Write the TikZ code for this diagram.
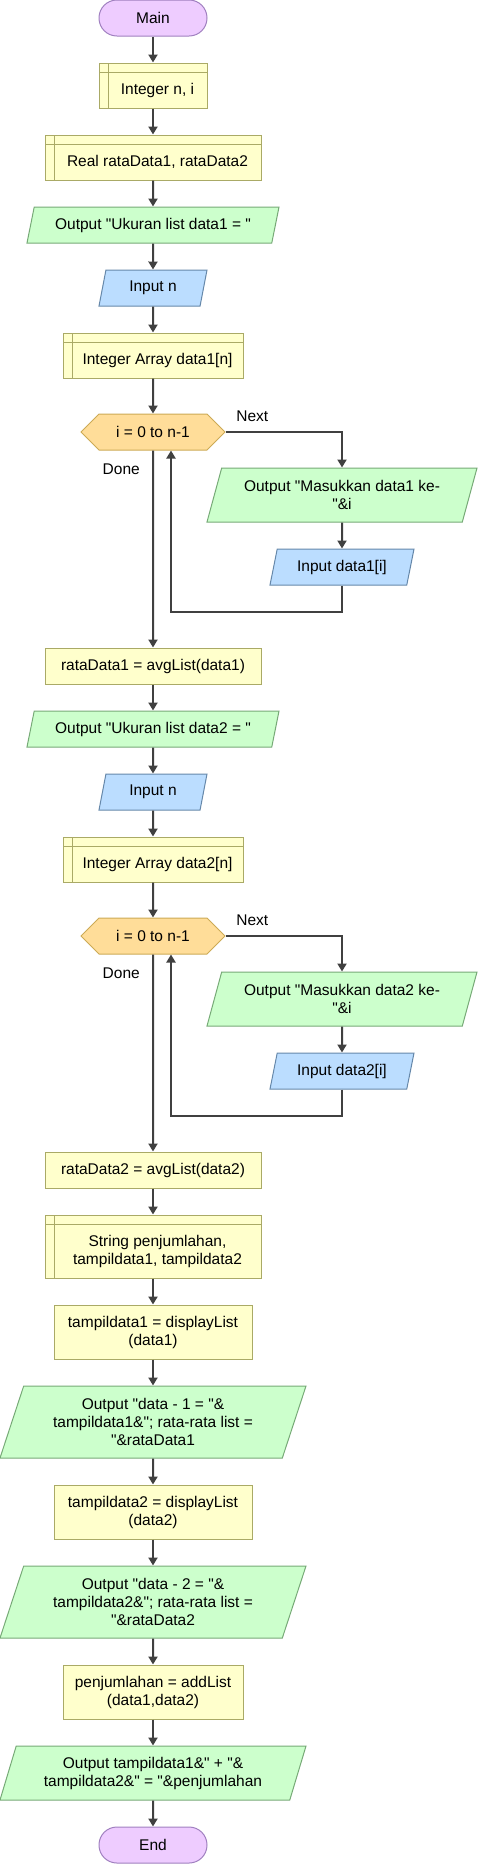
\documentclass[tikz,border=0pt]{standalone}
\usepackage{fontspec}
\setmainfont{Liberation Sans}[Ligatures=TeXOff]
\usetikzlibrary{shapes.geometric,shapes.symbols,arrows.meta,calc}
\definecolor{termfill}{RGB}{238,204,255}
\definecolor{termedge}{RGB}{160,128,192}
\definecolor{procfill}{RGB}{255,255,204}
\definecolor{procedge}{RGB}{170,170,102}
\definecolor{outfill}{RGB}{204,255,204}
\definecolor{outedge}{RGB}{119,170,119}
\definecolor{infill}{RGB}{187,221,255}
\definecolor{inedge}{RGB}{102,136,170}
\definecolor{loopfill}{RGB}{255,221,153}
\definecolor{loopedge}{RGB}{204,170,85}
\definecolor{arrline}{RGB}{64,64,64}
\tikzset{
  base/.style={draw, line width=1pt, inner sep=0pt, align=center, font=\fontsize{15.5pt}{18pt}\selectfont},
  box/.style 2 args={minimum width=#1pt, minimum height=#2pt},
  term/.style={base, fill=termfill, draw=termedge, rounded corners=17.9pt},
  proc/.style={base, fill=procfill, draw=procedge},
  decl/.style={proc, path picture={
    \draw[procedge, line width=1pt]
      ([xshift=9pt]path picture bounding box.north west) -- ([xshift=9pt]path picture bounding box.south west)
      ([yshift=-9pt]path picture bounding box.north west) -- ([yshift=-9pt]path picture bounding box.north east);}},
  declabel/.style={inner sep=0pt, align=center, xshift=4.5pt, yshift=-4.5pt, font=\fontsize{15.5pt}{18pt}\selectfont},
  io/.style={base, trapezium, trapezium left angle=63.435, trapezium right angle=116.565, trapezium stretches body},
  outp/.style={io, fill=outfill, draw=outedge},
  inp/.style={io, fill=infill, draw=inedge},
  loopbox/.style={base, signal, signal to=east and west, signal pointer angle=90, fill=loopfill, draw=loopedge, box={144}{36}},
  lbl/.style={inner sep=0pt, font=\fontsize{15.5pt}{18pt}\selectfont},
  arr/.style={draw=arrline, line width=2pt, -{Triangle[width=9pt,length=8pt]}}
}

\begin{document}
\begin{tikzpicture}[x=1pt, y=-1pt]
\useasboundingbox (0,0) rectangle (478,1864);
% first part: sizes of list 1
\node[term, box={108}{36}] (main) at (153,18) {Main};
\node[decl, box={108}{45}, label={[declabel]center:{Integer n, i}}] (decl1) at (153,85.5) {};
\node[decl, box={216}{45}, label={[declabel]center:{Real rataData1, rataData2}}] (decl2) at (153,157.5) {};
\node[outp, box={252}{36}] (out1) at (153,225) {Output "Ukuran list data1 = "};
\node[inp, box={108}{36}] (in1) at (153,288) {Input n};
\node[decl, box={180}{45}, label={[declabel]center:{Integer Array data1[n]}}] (decl3) at (153,355.5) {};
\node[loopbox] (loop1) at (153,432) {i = 0 to n-1};
\node[lbl, anchor=base west] (next1) at ([xshift=10.5pt, yshift=11pt]loop1.east) {Next};
\node[lbl, anchor=base east] (done1) at ([xshift=-13pt, yshift=-24pt]loop1.south) {Done};
\node[outp, box={270}{54}] (out2) at (342,495) {Output "Masukkan data1 ke-\\"\&i};
\node[inp, box={144}{36}] (in2) at (342,567) {Input data1[i]};
\coordinate (back1) at (171,612);
\node[proc, box={216}{36}] (assign1) at (153,666) {rataData1 = avgList(data1)};
% second part: list 2
\node[outp, box={252}{36}] (out3) at (153,729) {Output "Ukuran list data2 = "};
\node[inp, box={108}{36}] (in3) at (153,792) {Input n};
\node[decl, box={180}{45}, label={[declabel]center:{Integer Array data2[n]}}] (decl4) at (153,859.5) {};
\node[loopbox] (loop2) at (153,936) {i = 0 to n-1};
\node[lbl, anchor=base west] (next2) at ([xshift=10.5pt, yshift=11pt]loop2.east) {Next};
\node[lbl, anchor=base east] (done2) at ([xshift=-13pt, yshift=-24pt]loop2.south) {Done};
\node[outp, box={270}{54}] (out4) at (342,999) {Output "Masukkan data2 ke-\\"\&i};
\node[inp, box={144}{36}] (in4) at (342,1071) {Input data2[i]};
\coordinate (back2) at (171,1116);
\node[proc, box={216}{36}] (assign2) at (153,1170) {rataData2 = avgList(data2)};
% output part
\node[decl, box={216}{63}, label={[declabel]center:{String penjumlahan,\\tampildata1, tampildata2}}] (decl5) at (153,1246.5) {};
\node[proc, box={198}{54}] (assign3) at (153,1332) {tampildata1 = displayList\\(data1)};
\node[outp, box={306}{72}] (out5) at (153,1422) {Output "data - 1 = "\&\\tampildata1\&"; rata-rata list =\\"\&rataData1};
\node[proc, box={198}{54}] (assign4) at (153,1512) {tampildata2 = displayList\\(data2)};
\node[outp, box={306}{72}] (out6) at (153,1602) {Output "data - 2 = "\&\\tampildata2\&"; rata-rata list =\\"\&rataData2};
\node[proc, box={180}{54}] (assign5) at (153,1692) {penjumlahan = addList\\(data1,data2)};
\node[outp, box={306}{54}] (out7) at (153,1773) {Output tampildata1\&" + "\&\\tampildata2\&" = "\&penjumlahan};
\node[term, box={108}{36}] (end) at (153,1845) {End};
% connectors
\draw[arr] (main) -- (decl1);
\draw[arr] (decl1) -- (decl2);
\draw[arr] (decl2) -- (out1);
\draw[arr] (out1) -- (in1);
\draw[arr] (in1) -- (decl3);
\draw[arr] (decl3) -- (loop1);
\draw[arr] (loop1.east) -| (out2.north);
\draw[arr] (out2) -- (in2);
\draw[arr] (in2.south) |- (back1) -- (back1 |- loop1.south);
\draw[arr] (loop1) -- (assign1);
\draw[arr] (assign1) -- (out3);
\draw[arr] (out3) -- (in3);
\draw[arr] (in3) -- (decl4);
\draw[arr] (decl4) -- (loop2);
\draw[arr] (loop2.east) -| (out4.north);
\draw[arr] (out4) -- (in4);
\draw[arr] (in4.south) |- (back2) -- (back2 |- loop2.south);
\draw[arr] (loop2) -- (assign2);
\draw[arr] (assign2) -- (decl5);
\draw[arr] (decl5) -- (assign3);
\draw[arr] (assign3) -- (out5);
\draw[arr] (out5) -- (assign4);
\draw[arr] (assign4) -- (out6);
\draw[arr] (out6) -- (assign5);
\draw[arr] (assign5) -- (out7);
\draw[arr] (out7) -- (end);
\end{tikzpicture}
\end{document}
